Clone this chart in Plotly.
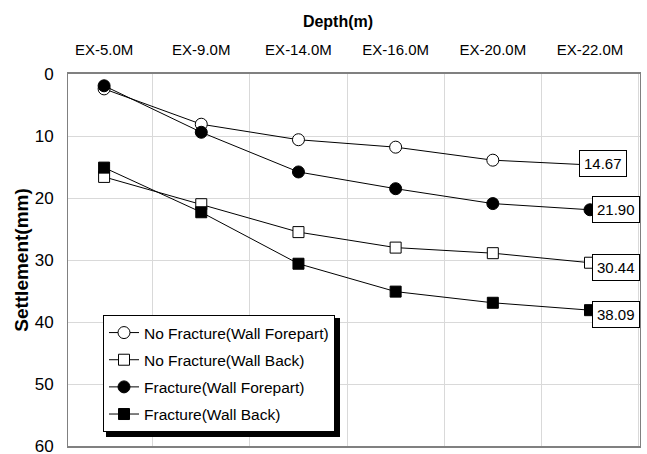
import plotly.graph_objects as go

categories = ["EX-5.0M", "EX-9.0M", "EX-14.0M", "EX-16.0M", "EX-20.0M", "EX-22.0M"]
nf_forepart = [2.4, 8.1, 10.6, 11.8, 13.9, 14.67]
nf_back = [16.6, 21.0, 25.5, 28.0, 28.9, 30.44]
f_forepart = [1.9, 9.4, 15.8, 18.5, 20.9, 21.90]
f_back = [15.1, 22.3, 30.6, 35.1, 36.9, 38.09]

series_names = ["No Fracture(Wall Forepart)", "No Fracture(Wall Back)",
                "Fracture(Wall Forepart)", "Fracture(Wall Back)"]
series_values = [nf_forepart, nf_back, f_forepart, f_back]
symbols = ["circle", "square", "circle", "square"]
fills = ["white", "white", "black", "black"]
sizes = [12, 11, 12, 11]
label_shift = [(13, 1), (26, -5), (26, 0), (26, -4)]

FONT = "Liberation Sans, Arial, sans-serif"

# plot area in pixels (for paper-coordinate conversions of decorations)
L, R, T, B = 68, 640, 74, 446
def px(xp):
    return (xp - L) / (R - L)
def py(yp):
    return (B - yp) / (B - T)

fig = go.Figure()
for i, (name, vals) in enumerate(zip(series_names, series_values)):
    fig.add_trace(go.Scatter(
        x=categories, y=vals, name=name, mode="lines+markers",
        legendgroup=f"g{i}",
        line=dict(color="black", width=1),
        marker=dict(symbol=symbols[i], size=sizes[i], color=fills[i],
                    line=dict(color="black", width=1)),
    ))

for i, vals in enumerate(series_values):
    dx, dy = label_shift[i]
    fig.add_annotation(
        x=categories[-1], y=vals[-1], text=f"{vals[-1]:.2f}", showarrow=False,
        xshift=dx, yshift=dy, bgcolor="white", bordercolor="black",
        borderwidth=1, borderpad=4, font=dict(family=FONT, size=15, color="black"),
    )

# legend drop shadow
fig.add_shape(type="rect", xref="paper", yref="paper",
              x0=px(106), x1=px(340), y0=py(437), y1=py(318),
              fillcolor="black", line=dict(width=0), layer="above")

fig.update_layout(
    width=647, height=454,
    margin=dict(l=L, r=647 - R, t=T, b=454 - B, autoexpand=False),
    paper_bgcolor="white", plot_bgcolor="white",
    title=dict(text="<b>Depth(m)</b>", xref="paper", x=px(338), xanchor="center",
               yref="container", y=1 - 21 / 454, yanchor="middle",
               font=dict(family=FONT, size=16, color="black")),
    showlegend=True,
    legend=dict(x=px(103), y=py(315), xanchor="left", yanchor="top",
                bgcolor="white", bordercolor="black", borderwidth=1,
                font=dict(family=FONT, size=15.5, color="black"),
                tracegroupgap=4, itemwidth=30),
    xaxis=dict(type="category", side="top", tickson="boundaries",
               automargin=False,
               showgrid=True, gridcolor="#d9d9d9", gridwidth=1,
               showline=True, linecolor="#808080", linewidth=2, mirror=True,
               ticks="", ticklabelstandoff=11,
               tickfont=dict(family=FONT, size=15, color="black")),
    yaxis=dict(range=[60, 0], tickvals=[0, 10, 20, 30, 40, 50, 60],
               automargin=False,
               showgrid=True, gridcolor="#d9d9d9", gridwidth=1,
               showline=True, linecolor="#808080", linewidth=1, mirror=True,
               ticks="", ticklabelstandoff=10, zeroline=False,
               ticklabeloverflow="allow",
               tickfont=dict(family=FONT, size=17, color="black"),
               title=dict(text="<b>Settlement(mm)</b>", standoff=1,
                          font=dict(family=FONT, size=19, color="black"))),
)

fig.write_html("out.html", config={"displayModeBar": False},
               post_script="document.body.style.margin='0';")
